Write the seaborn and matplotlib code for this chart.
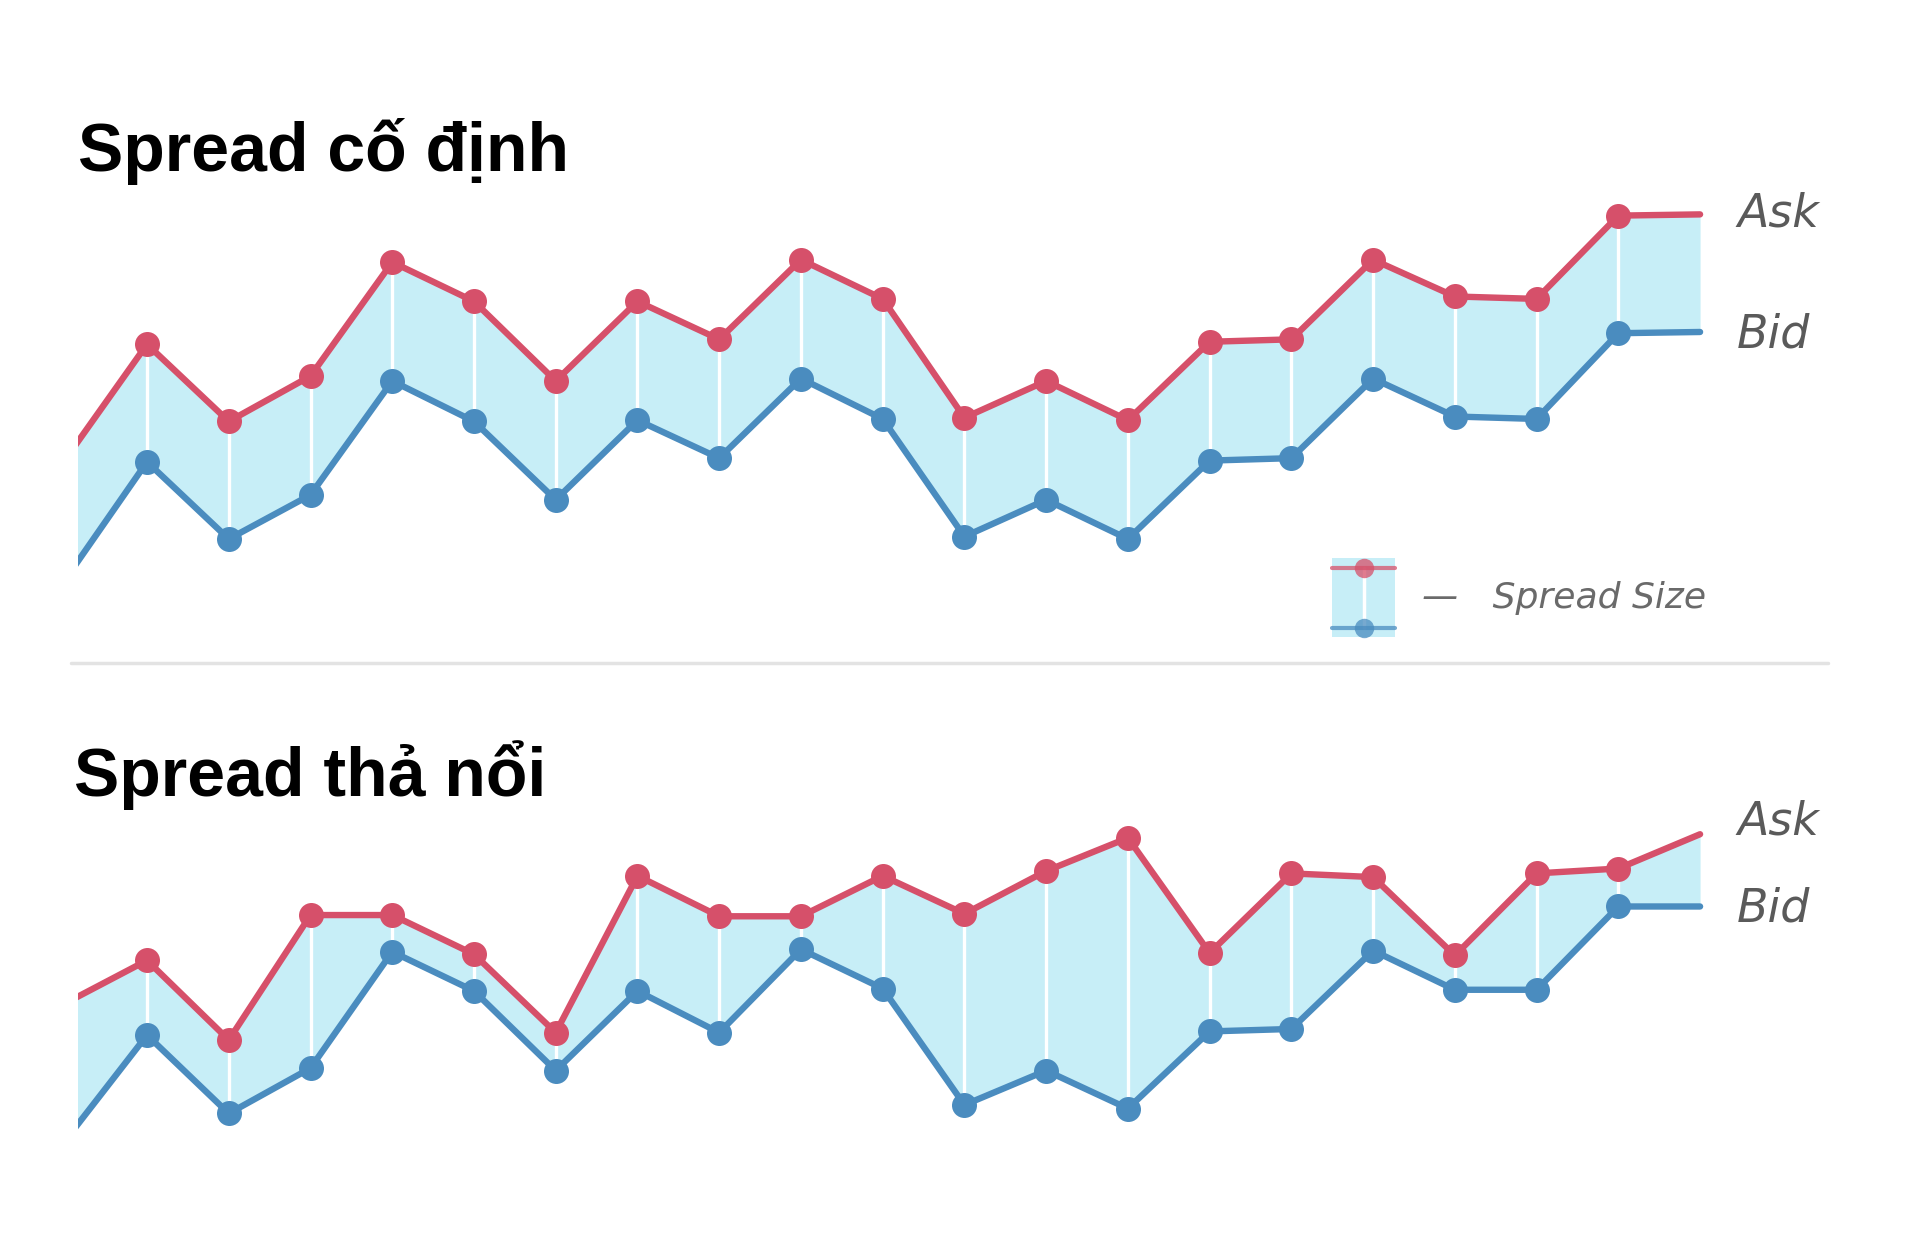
import seaborn as sns
import matplotlib.pyplot as plt
from matplotlib.lines import Line2D
from matplotlib.patches import Rectangle
from matplotlib.legend_handler import HandlerBase

steps = list(range(21))
fixed_ask = [18.5, 27.9, 21.6, 25.3, 34.6, 31.4, 24.9, 31.4, 28.3, 34.8, 31.6,
             21.9, 24.9, 21.7, 28.1, 28.3, 34.8, 31.8, 31.6, 38.4, 38.5]
fixed_bid = [8.7, 18.3, 12.0, 15.6, 24.9, 21.6, 15.2, 21.7, 18.6, 25.1, 21.8,
             12.2, 15.2, 12.0, 18.4, 18.6, 25.1, 22.0, 21.8, 28.8, 28.9]
float_ask = [18.1, 21.6, 15.1, 25.3, 25.3, 22.1, 15.7, 28.5, 25.2, 25.2, 28.5,
             25.4, 28.9, 31.6, 22.2, 28.7, 28.4, 22.0, 28.7, 29.1, 31.9]
float_bid = [6.9, 15.5, 9.1, 12.8, 22.3, 19.1, 12.6, 19.1, 15.7, 22.5, 19.3,
             9.8, 12.6, 9.5, 15.8, 16.0, 22.4, 19.2, 19.2, 26.0, 26.0]
titles = ["Spread cố định", "Spread thả nổi"]

ASK = "#d6506a"
BID = "#4a8cbf"
FILL = "#c7eef7"
GREY = "#5a5a5a"

sns.set_theme(style="white")
plt.rcParams["font.family"] = ["Liberation Sans", "DejaVu Sans"]


class SpreadHandler(HandlerBase):
    # little ask/bid glyph used in the legend
    def create_artists(self, legend, orig_handle, xdescent, ydescent,
                       width, height, fontsize, trans):
        x0, y0 = -xdescent, -ydescent
        xm = x0 + width / 2
        yt, yb = y0 + height * 0.87, y0 + height * 0.11
        rect = Rectangle((x0, y0), width, height, facecolor=FILL,
                         edgecolor="none", transform=trans)
        mid = Line2D([xm, xm], [yb, yt], color="white", lw=2.5, transform=trans)
        top = Line2D([x0, x0 + width], [yt, yt], color=ASK, lw=3, alpha=0.75,
                     transform=trans)
        bot = Line2D([x0, x0 + width], [yb, yb], color=BID, lw=3, alpha=0.75,
                     transform=trans)
        m1 = Line2D([xm], [yt], marker="o", ms=14, color=ASK, alpha=0.75,
                    markeredgewidth=0, transform=trans)
        m2 = Line2D([xm], [yb], marker="o", ms=14, color=BID, alpha=0.75,
                    markeredgewidth=0, transform=trans)
        return [rect, mid, top, bot, m1, m2]


fig = plt.figure(figsize=(19.21, 12.51), dpi=100)
ax_top = fig.add_axes([0.0408, 0.4908, 0.8476, 0.3721])
ax_bot = fig.add_axes([0.0408, 0.06, 0.8476, 0.3133])

panels = [
    (ax_top, fixed_ask, fixed_bid, (4, 42), 0),
    (ax_bot, float_ask, float_bid, (4, 36), 9),
]

for ax, ask, bid, ylim, ask_shift in panels:
    ax.fill_between(steps, bid, ask, color=FILL, lw=0)
    ax.vlines(steps[1:20], bid[1:20], ask[1:20], color="white", lw=2.4)
    sns.lineplot(x=steps, y=ask, ax=ax, color=ASK, lw=4.6, marker="o",
                 markersize=18, markeredgewidth=0, markevery=range(1, 20))
    sns.lineplot(x=steps, y=bid, ax=ax, color=BID, lw=4.6, marker="o",
                 markersize=18, markeredgewidth=0, markevery=range(1, 20))
    ax.set_xlim(0.16, 20.08)
    ax.set_ylim(*ylim)
    ax.axis("off")
    ax.annotate("Ask", xy=(20.08, ask[-1]), xytext=(22, ask_shift),
                textcoords="offset points", va="center", ha="left",
                fontsize=33, color=GREY, style="italic", family="DejaVu Sans",
                annotation_clip=False)
    ax.annotate("Bid", xy=(20.08, bid[-1]), xytext=(22, -2),
                textcoords="offset points", va="center", ha="left",
                fontsize=33, color=GREY, style="italic", family="DejaVu Sans",
                annotation_clip=False)

fig.text(0.0408, 0.863, titles[0], fontsize=49, fontweight="bold",
         color="black", va="baseline", ha="left")
fig.text(0.0383, 0.3637, titles[1], fontsize=49, fontweight="bold",
         color="black", va="baseline", ha="left")

# divider between the two panels
fig.add_artist(Line2D([0.037, 0.9515], [0.470, 0.470], color="#e3e3e3",
                      lw=2.5, transform=fig.transFigure))

leg = ax_top.legend([object()], ["—   Spread Size"],
                    handler_map={object: SpreadHandler()},
                    loc="lower right", bbox_to_anchor=(1.0, 0.0),
                    frameon=False, fontsize=26, handlelength=1.75,
                    handleheight=3.0, handletextpad=0.75, borderpad=0,
                    borderaxespad=0)
for t in leg.get_texts():
    t.set_color("#6a6a6a")
    t.set_style("italic")
    t.set_family("DejaVu Sans")

fig.savefig("out.png", dpi=100, facecolor="white")
